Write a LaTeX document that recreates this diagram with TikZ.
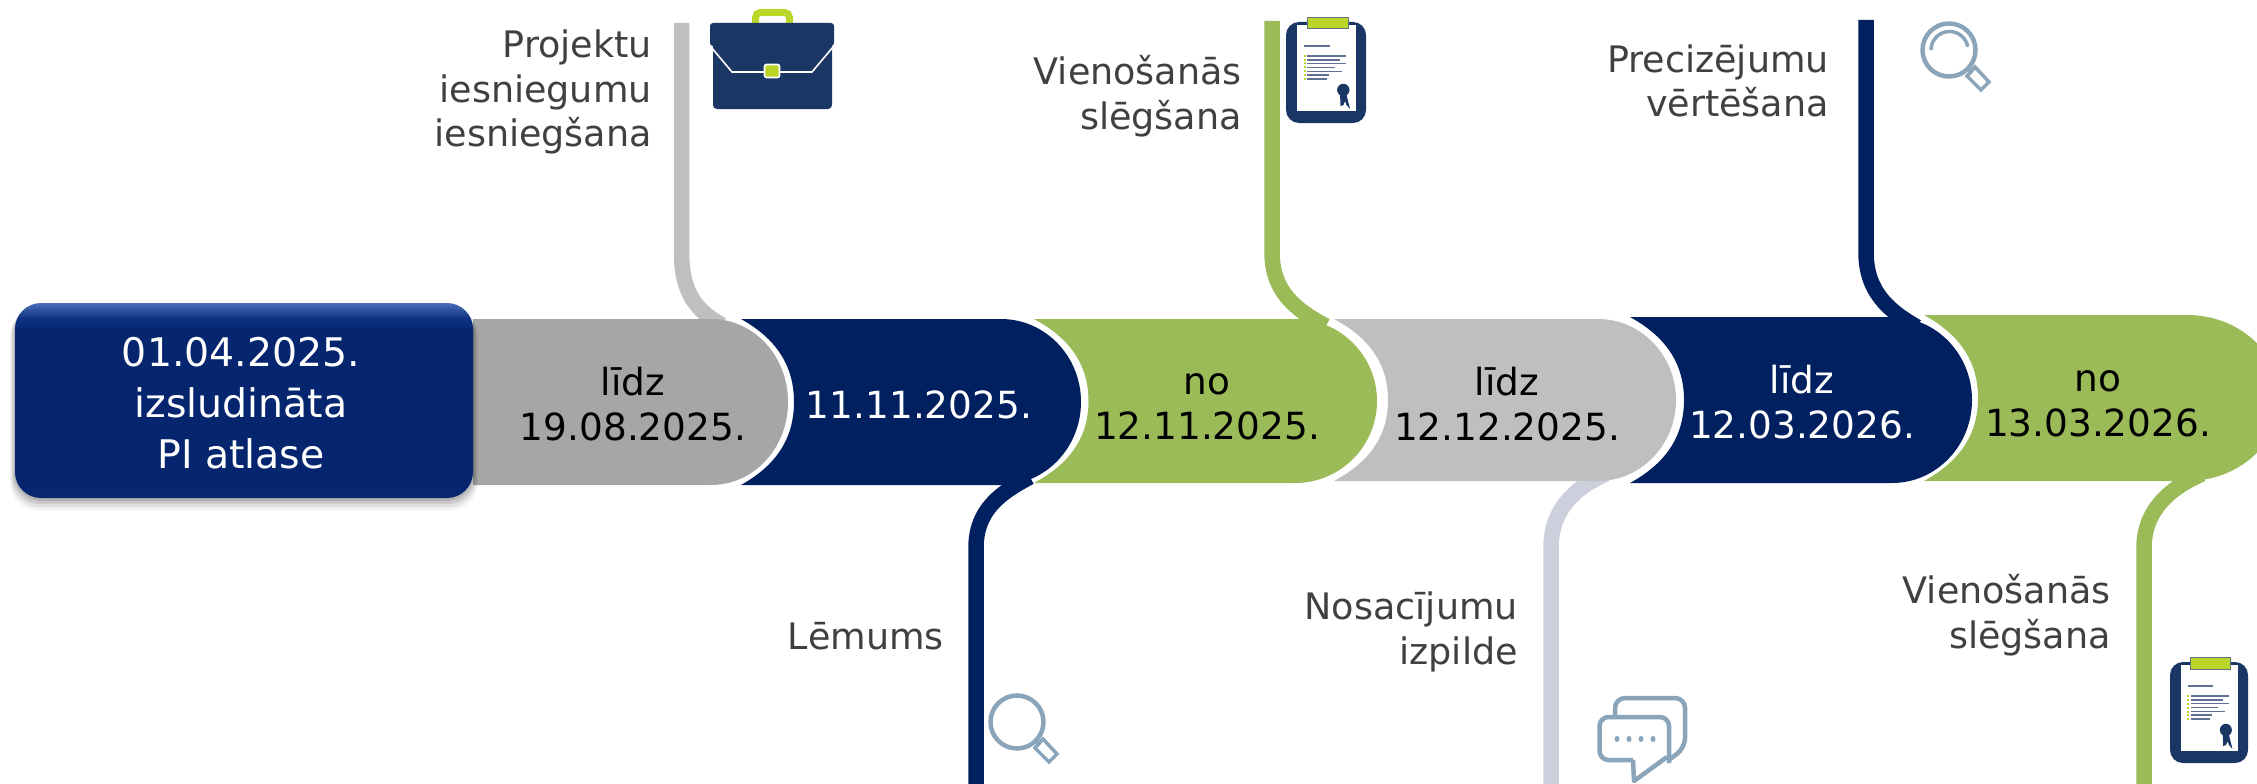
\documentclass[tikz,border=0pt]{standalone}
\usepackage{fontspec}
\setmainfont{DejaVu Sans}
\definecolor{cnavy}{HTML}{002060}
\definecolor{cgreen}{HTML}{9BBB59}
\definecolor{cgrayA}{HTML}{A6A6A6}
\definecolor{cgrayB}{HTML}{BFBFBF}
\definecolor{clav}{HTML}{CDD0DC}
\definecolor{ctext}{HTML}{404040}
\definecolor{iconnavy}{HTML}{1A3665}
\definecolor{iconlime}{HTML}{BAD629}
\definecolor{iconblue}{HTML}{8AA4BA}
\definecolor{boxa}{HTML}{0A2A6E}
\definecolor{boxb}{HTML}{05256F}
\definecolor{boxc}{HTML}{0E3080}
\definecolor{boxd}{HTML}{4A6CB8}
\pgfdeclareverticalshading{mainbox}{100bp}{
  color(0bp)=(boxa);color(25bp)=(boxa);color(27bp)=(boxb);color(68bp)=(boxb);
  color(71bp)=(boxc);color(75bp)=(boxd);color(100bp)=(boxd)}
% #1 colour, #2 left top x, #3 left tip x, #4 top y, #5 bottom y, #6 curve start x, #7 tip x
\newcommand{\barshape}[7]{%
  \pgfmathsetmacro{\ymid}{(#4+#5)/2}\pgfmathsetmacro{\hh}{(#5-#4)/2}%
  \pgfmathsetmacro{\lc}{#2+0.56*(#3-#2)}\pgfmathsetmacro{\ya}{#4+0.2*\hh}\pgfmathsetmacro{\yb}{\ymid-0.5*\hh}%
  \pgfmathsetmacro{\yc}{\ymid+0.5*\hh}\pgfmathsetmacro{\yd}{#5-0.2*\hh}%
  \pgfmathsetmacro{\rc}{#6+0.5523*(#7-#6)}\pgfmathsetmacro{\ye}{\ymid-0.5523*\hh}\pgfmathsetmacro{\yf}{\ymid+0.5523*\hh}%
  \fill[#1] (#2,-#4) -- (#6,-#4) .. controls (\rc,-#4) and (#7,-\ye) .. (#7,-\ymid)
    .. controls (#7,-\yf) and (\rc,-#5) .. (#6,-#5) -- (#2,-#5)
    .. controls (\lc,-\yd) and (#3,-\yc) .. (#3,-\ymid)
    .. controls (#3,-\yb) and (\lc,-\ya) .. (#2,-#4) -- cycle;}
\newcommand{\clipicon}{%
    \fill[iconnavy,rounded corners=13] (1286,-22) rectangle (1366,-123);
    \fill[white] (1297,-25) rectangle (1356,-111);
    \fill[iconlime,draw=iconblue!70!black,line width=1] (1307,-17.5) rectangle (1348,-29);
    \draw[icl,line width=1.6] (1304,-46) -- (1330,-46);
    \foreach \yy/\xx in {56/1346,60/1340,63.5/1346,67.5/1335,71.5/1342,75/1329,79/1327}{
      \fill[iconlime] (1303.5,-\yy-1) rectangle (1305.5,-\yy+1);
      \draw[icl,line width=1.3] (1307,-\yy) -- (\xx,-\yy);}
    \fill[iconnavy] (1343.3,-90) circle (6.2);
    \fill[iconnavy] (1340,-93) -- (1346,-93) -- (1350,-109) -- (1346.5,-105) -- (1345,-101) -- (1343.5,-105) -- (1340.5,-106) -- cycle;}
\newcommand{\lensicon}[2]{%
  \begin{scope}[shift={(#1,#2)}]
    \draw[iconblue,line width=4.5] (0,0) circle (26.5);
    \draw[iconblue,line width=3] (20,-20) -- (23,-23);
    \draw[iconblue,line width=3.5,line join=miter] (26,-17) -- (40,-32) -- (32,-40) -- (18,-26) -- cycle;
  \end{scope}}
\tikzset{
  icl/.style={color=iconnavy!70!white},
  linkline/.style={line width=15.5,line cap=butt},
  datetext/.style={font=\fontsize{37.4}{45}\selectfont,align=center,inner sep=0},
  mainlabel/.style={font=\fontsize{39.4}{51}\selectfont,align=center,inner sep=0,text=white},
  sidelabel/.style={font=\fontsize{36.5}{44.5}\selectfont,align=right,inner sep=0,text=ctext,anchor=east},
}
\begin{document}
\begin{tikzpicture}[x=1pt,y=1pt]
\useasboundingbox (0,0) rectangle (2257,-784);
\clip (0,0) rectangle (2257,-784);
\fill[white] (0,0) rectangle (2257,-784);
% connector anchors
\coordinate (c1a) at (681.5,-23);  \coordinate (c1b) at (681.5,-252);  \coordinate (c1e) at (722,-325);
\coordinate (c2a) at (1272,-21);   \coordinate (c2b) at (1272,-252);   \coordinate (c2e) at (1326,-326);
\coordinate (c3a) at (1866,-20);   \coordinate (c3b) at (1866,-252);   \coordinate (c3e) at (1917,-327);
\coordinate (c4a) at (976,-784);   \coordinate (c4b) at (976,-548);    \coordinate (c4e) at (1030,-477);
\coordinate (c5a) at (1551,-784);  \coordinate (c5b) at (1551,-548);   \coordinate (c5e) at (1606,-474);
\coordinate (c6a) at (2144,-784);  \coordinate (c6b) at (2144,-548);   \coordinate (c6e) at (2202,-474);
\draw[linkline,cgrayB] (c1a) -- (c1b) .. controls +(0,-40) and +(-26,14) .. (c1e);
\draw[linkline,cgreen] (c2a) -- (c2b) .. controls +(0,-40) and +(-30,16) .. (c2e);
\draw[linkline,cnavy]  (c3a) -- (c3b) .. controls +(0,-40) and +(-28,16) .. (c3e);
\draw[linkline,cnavy]  (c4a) -- (c4b) .. controls +(0,38) and +(-30,-16) .. (c4e);
\draw[linkline,clav]   (c5a) -- (c5b) .. controls +(0,38) and +(-32,-14) .. (c5e);
\draw[linkline,cgreen] (c6a) -- (c6b) .. controls +(0,38) and +(-32,-14) .. (c6e);
% bars
\barshape{cgreen}{1924}{1978}{315}{481}{2187}{2280}
\barshape{cnavy}{1630}{1684}{317}{483}{1892}{1972}
\barshape{cgrayB}{1334}{1388}{319}{481}{1598}{1676}
\barshape{cgreen}{1034}{1088.5}{319}{483}{1295}{1377}
\barshape{cnavy}{741}{794}{319}{485}{1001}{1081}
\fill[cgrayA] (473,-319) -- (711,-319) .. controls (754,-319) and (788,-356) .. (788,-402) .. controls (788,-448) and (754,-485) .. (711,-485) -- (473,-485) -- cycle;
% main box
\foreach \k/\o in {12/0.05,9/0.07,6/0.09,3/0.12}{
  \fill[black,opacity=\o,rounded corners=28] (15-\k*0.4,-305-\k*0.2) rectangle (473+\k*0.4,-498-\k);}
\shade[shading=mainbox,rounded corners=26] (15,-303) rectangle (473,-498);
% texts
\node[mainlabel] (tmain) at (241,-403) {01.04.2025.\\izsludināta\\PI atlase};
\node[datetext,text=black] (t1) at (633,-404) {līdz\\19.08.2025.};
\node[datetext,text=white] (t2) at (919,-405) {11.11.2025.};
\node[datetext,text=black] (t3) at (1207,-407) {no\\12.11.2025.};
\node[datetext,text=black] (t4) at (1507,-404) {līdz\\12.12.2025.};
\node[datetext,text=white] (t5) at (1802,-402) {līdz\\12.03.2026.};
\node[datetext,text=black] (t6) at (2098,-404) {no\\13.03.2026.};
\node[sidelabel] (s1) at (652,-92) {Projektu\\iesniegumu\\iesniegšana};
\node[sidelabel] (s2) at (1242,-96) {Vienošanās\\slēgšana};
\node[sidelabel] (s3) at (1829,-81) {Precizējumu\\vērtēšana};
\node[sidelabel] (s4) at (944,-636) {Lēmums};
\node[sidelabel] (s5) at (1518,-632) {Nosacījumu\\izpilde};
\node[sidelabel] (s6) at (2111,-615) {Vienošanās\\slēgšana};
% briefcase
\draw[iconlime,line width=7,rounded corners=5] (755.5,-23) -- (755.5,-12.5) -- (789.5,-12.5) -- (789.5,-23);
\fill[iconnavy,rounded corners=4] (713,-40) -- (832,-40) -- (832,-109) -- (713,-109) -- cycle;
\fill[iconnavy,rounded corners=3] (710,-23) rectangle (834,-46);
\draw[white,line width=1.6] (711,-47) -- (732,-72) -- (812,-72) -- (833,-47);
\fill[iconlime,draw=white,line width=1.6,rounded corners=2] (764.5,-64.5) rectangle (779.5,-77.5);
% clipboards
\clipicon
\begin{scope}[shift={(2170,-662)},xscale=0.975,shift={(-1286,22)}]
\clipicon
\end{scope}
% magnifiers
\lensicon{1949}{-50}
\draw[iconblue,line width=3.5] (1931,-50) arc[start angle=180,end angle=10,radius=18.5];
\lensicon{1017}{-722}
% chat
\draw[iconblue,line width=4.5,rounded corners=10] (1615,-718) -- (1615,-698) -- (1685,-698) -- (1685,-748) -- (1670,-759);
\draw[iconblue,line width=4.5,rounded corners=9,line join=round] (1633,-760) -- (1599.5,-760) -- (1599.5,-717) -- (1669,-717) -- (1669,-763);
\draw[iconblue,line width=4.5,line join=round] (1633,-760) -- (1634,-781) -- (1667,-757);
\foreach \dx in {1617,1629,1641,1653}{\fill[iconblue] (\dx,-739) ellipse (2.5 and 3);}
\end{tikzpicture}
\end{document}
